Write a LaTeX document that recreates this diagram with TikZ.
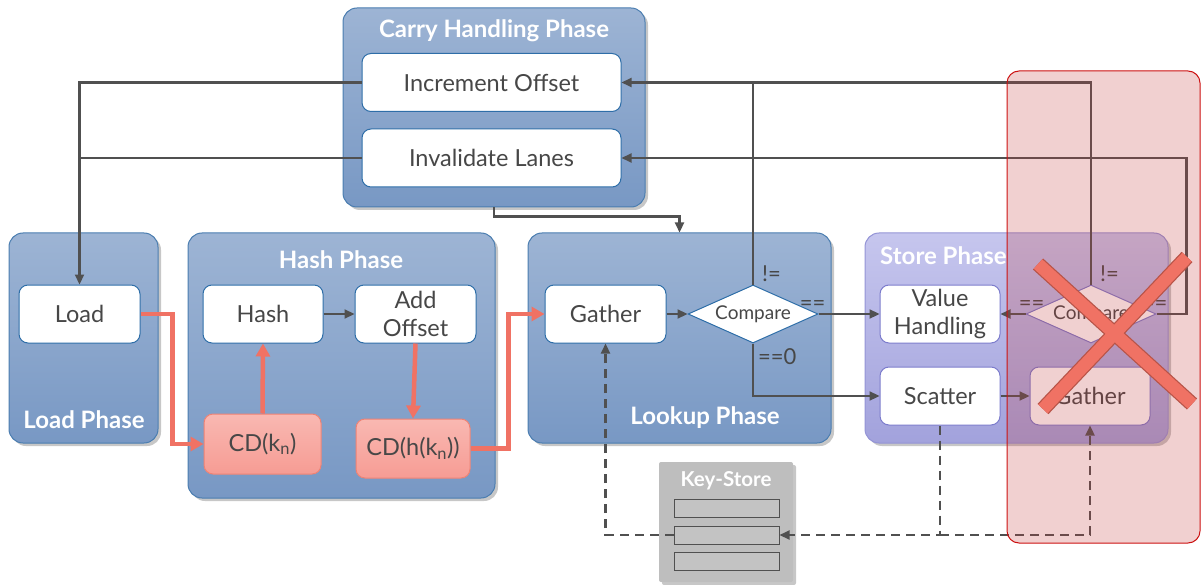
\documentclass[tikz,border=0pt]{standalone}
\usepackage{fontspec}
\setmainfont{Lato}
\usetikzlibrary{arrows.meta,calc,shapes.geometric,shadows}

\definecolor{phaseTop}{HTML}{9DB4D4}
\definecolor{phaseBot}{HTML}{7898C4}
\definecolor{phaseLine}{HTML}{4A7DB0}
\definecolor{boxLine}{HTML}{2E6EA8}
\definecolor{textGray}{HTML}{474747}
\definecolor{wireGray}{HTML}{505050}
\definecolor{salmon}{HTML}{F07264}
\definecolor{cdTop}{HTML}{F9B8B2}
\definecolor{cdBot}{HTML}{F69C94}
\definecolor{cdLine}{HTML}{EE8274}
\definecolor{storeTop}{HTML}{C6C6EE}
\definecolor{storeBot}{HTML}{A2A2DC}
\definecolor{storeLine}{HTML}{9494D6}
\definecolor{storeBox}{HTML}{7C7CCC}
\definecolor{keyGray}{HTML}{BEBEBE}
\definecolor{vetoRed}{HTML}{C43C3C}
\definecolor{vetoLine}{HTML}{CC1111}
\definecolor{crossDark}{HTML}{B85448}

\tikzset{
  softshadow/.style={drop shadow={shadow xshift=3pt, shadow yshift=-3pt, opacity=0.22, fill=black}},
  phase/.style={rounded corners=14pt, draw=phaseLine, line width=1pt,
    top color=phaseTop, bottom color=phaseBot, softshadow, inner sep=0pt},
  storephase/.style={phase, draw=storeLine, top color=storeTop, bottom color=storeBot},
  title/.style={text=white, font=\bfseries\fontsize{24}{26}\selectfont, inner sep=0pt},
  stepbox/.style={rounded corners=9pt, draw=boxLine, line width=1pt, fill=white,
    text=textGray, minimum width=121pt, minimum height=58pt, align=center,
    inner sep=1pt, font=\fontsize{23.5}{28}\selectfont},
  storebox/.style={stepbox, draw=storeBox},
  cdbox/.style={stepbox, draw=cdLine, top color=cdTop, bottom color=cdBot},
  decision/.style={diamond, draw=boxLine, line width=1pt, fill=white, text=textGray,
    minimum width=130pt, minimum height=58pt, inner sep=0pt,
    font=\fontsize{19}{21}\selectfont},
  lbl/.style={text=textGray, font=\fontsize{22}{24}\selectfont, inner sep=1pt},
  wire/.style={draw=wireGray, line width=2.2pt},
  conn/.style={wire, -{Triangle[length=10pt,width=9pt]}},
  hot/.style={draw=salmon, line width=4.5pt, -{Triangle[length=13pt,width=14pt]}},
  dashwire/.style={wire, dash pattern=on 9pt off 6pt},
  dasharrow/.style={dashwire, -{Triangle[length=10pt,width=9pt]}},
  slot/.style={draw=wireGray, line width=1pt, fill=keyGray!92!white,
    minimum width=105pt, minimum height=18pt, inner sep=0pt},
}

\begin{document}
\begin{tikzpicture}[x=1pt, y=-1pt]
    \useasboundingbox (0,0) rectangle (1201,585);

    % phases
    \node[phase, minimum width=302pt, minimum height=199pt] (carry) at (494,107.5) {};
    \node[phase, minimum width=149pt, minimum height=210pt] (loadph) at (83.5,338) {};
    \node[phase, minimum width=307pt, minimum height=265pt] (hashph) at (341.5,365.5) {};
    \node[phase, minimum width=303pt, minimum height=210pt] (lookph) at (679.5,338) {};
    \node[storephase, minimum width=303pt, minimum height=210pt] (storeph) at (1016.5,338) {};
    \node[rectangle, rounded corners=2pt, fill=keyGray, softshadow, minimum width=134pt,
          minimum height=120pt, inner sep=0pt] (keys) at (726,522) {};

    \node[title] (carryT) at (494,31) {Carry Handling Phase};
    \node[title] (loadT) at (84,420) {Load Phase};
    \node[title] (hashT) at (341,260) {Hash Phase};
    \node[title] (lookT) at (705,418) {Lookup Phase};
    \node[title, anchor=west] (storeT) at (880,256) {Store Phase};
    \node[title, font=\bfseries\fontsize{20.5}{22}\selectfont] (keysT) at (726,481) {Key-Store};

    % steps
    \node[stepbox, minimum width=259pt] (incr) at (491.5,82.5) {Increment Offset};
    \node[stepbox, minimum width=259pt] (inval) at (491.5,158) {Invalidate Lanes};
    \node[stepbox] (load) at (79.5,314) {Load};
    \node[stepbox, minimum width=120pt] (hash) at (263,314) {Hash};
    \node[stepbox] (addoff) at (415.5,314) {Add\\Offset};
    \node[cdbox, minimum width=117pt, minimum height=60pt] (cdk) at (262.5,444) {CD(k\textsubscript{n})};
    \node[cdbox, minimum width=114pt, minimum height=59pt] (cdh) at (413,448.5) {CD(h(k\textsubscript{n}))};
    \node[stepbox] (gather) at (605.5,314) {Gather};
    \node[decision] (cmp) at (753,314) {\makebox[0pt]{Compare}};
    \node[storebox, minimum width=120pt] (value) at (940,314) {Value\\Handling};
    \node[storebox, minimum width=120pt] (scatter) at (940,396) {Scatter};
    \node[storebox, minimum width=120pt] (gath2) at (1090,396) {Gather};
    \node[decision, draw=storeBox] (cmp2) at (1091,314) {\makebox[0pt]{Compare}};

    \node[slot] (slotA) at (726.5,508) {};
    \node[slot] (slotB) at (726.5,535) {};
    \node[slot] (slotC) at (726.5,561) {};

    % control flow
    \draw[conn] (incr.west) -| (load.north);
    \draw[wire] (inval.west) -- (inval.west -| load.north);
    \draw[conn] (carry.south) -- ++(0,9) -| (lookph.north);
    \draw[conn] (cmp.north) |- (incr.east);
    \draw[wire] (cmp2.north) |- (cmp.north |- incr.east);
    \draw[conn] (cmp2.east) -- ++(30,0) |- (inval.east);
    \draw[conn] (gather.east) -- (cmp.west);
    \draw[conn] (cmp.east) -- (value.west);
    \draw[conn] (cmp.south) |- (scatter.west);
    \draw[conn] (cmp2.west) -- (value.east);
    \draw[conn] (scatter.east) -- (gath2.west);
    \draw[conn] (hash.east) -- (addoff.west);

    \node[lbl, anchor=south west] (neqA) at ([xshift=8pt,yshift=2pt]cmp.north) {!=};
    \node[lbl, anchor=south] (eqA) at ([xshift=-6pt,yshift=2pt]cmp.east) {==};
    \node[lbl, anchor=north west] (zeroA) at ([xshift=4pt,yshift=-4pt]cmp.south) {==0};
    \node[lbl, anchor=south west] (neqB) at ([xshift=8pt,yshift=2pt]cmp2.north) {!=};
    \node[lbl, anchor=south] (eqB) at ([xshift=6pt,yshift=2pt]cmp2.west) {==};
    \node[lbl, anchor=south] (eqC) at ([xshift=-2pt,yshift=2pt]cmp2.east) {==};

    % data flow
    \draw[hot] (load.east) -- ++(32,0) |- (cdk.west);
    \draw[hot] (cdk.north) -- (hash.south);
    \draw[hot] (addoff.south) -- (cdh.north);
    \draw[hot] (cdh.east) -- ++(38,0) |- (gather.west);

    \draw[dasharrow] (slotB.west) -| (gather.south);
    \draw[dasharrow] (scatter.south) |- (slotB.east);
    \draw[dasharrow] (scatter.south |- slotB.east) -| (gath2.south);

    % dropped part
    \node[rectangle, rounded corners=12pt, draw=vetoLine, line width=1pt, fill=vetoRed,
          fill opacity=0.24, minimum width=193pt, minimum height=472pt] (veto) at (1103.5,307) {};
    \coordinate (xa) at (1038,264);
    \coordinate (xb) at (1192,404);
    \coordinate (xc) at (1187,257);
    \coordinate (xd) at (1043,409);
    \draw[crossDark, line width=15pt] (xa) -- (xb) (xc) -- (xd);
    \draw[salmon, line width=12.5pt] (xa) -- (xb) (xc) -- (xd);
\end{tikzpicture}
\end{document}
